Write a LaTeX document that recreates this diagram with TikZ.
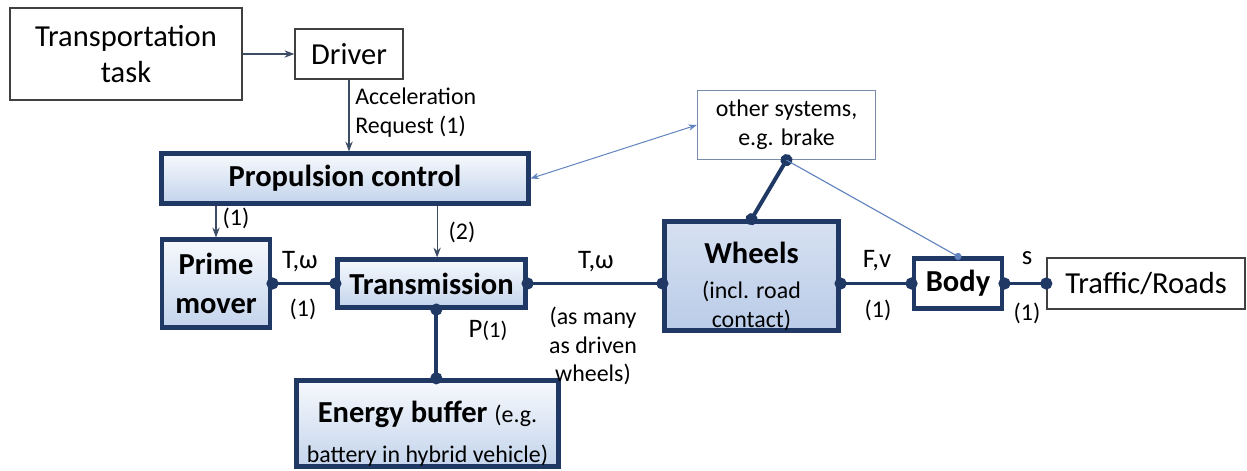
\documentclass[tikz,border=0pt]{standalone}
\usepackage{fontspec}
\setmainfont{Carlito}
\usetikzlibrary{arrows.meta, positioning}
\definecolor{linkblue}{RGB}{31,56,100}
\definecolor{fillhi}{RGB}{246,249,253}
\definecolor{filllo}{RGB}{196,212,236}
\definecolor{wheelhi}{RGB}{214,224,241}
\definecolor{wheello}{RGB}{186,204,232}
\definecolor{sigline}{RGB}{60,76,100}
\definecolor{lightlink}{RGB}{96,130,190}
\definecolor{otherframe}{RGB}{120,140,170}
\newcommand{\bigfont}{\fontsize{21.7pt}{26pt}\selectfont}
\newcommand{\smallfont}{\fontsize{17pt}{20.5pt}\selectfont}
\newcommand{\qtyfont}{\fontsize{19pt}{22pt}\selectfont}
\tikzstyle{plain} = [rectangle, draw=black!75, line width=1pt, inner sep=0pt, align=center, font=\bigfont]
\tikzstyle{block} = [rectangle, draw=linkblue, line width=3.5pt, top color=fillhi, bottom color=filllo, inner sep=0pt, align=center, font=\bigfont\bfseries]
\tikzstyle{annot} = [inner sep=0pt, align=center, font=\smallfont]
\tikzstyle{qty} = [inner sep=0pt, font=\qtyfont]
\tikzstyle{couple} = [draw=linkblue, line width=2.8pt, {Circle[length=8.5pt]}-{Circle[length=8.5pt]}, shorten <=-4.25pt, shorten >=-4.25pt]
\tikzstyle{ctl} = [draw=sigline, line width=0.8pt, -{Stealth[length=7pt]}]

\begin{document}
\begin{tikzpicture}[x=0.025cm, y=-0.025cm]
  \useasboundingbox (0,0) rectangle (1247,470);

  % Fahrer und Aufgabe
  \node[plain, minimum width=5.8cm, minimum height=2.3cm] (task) at (126,54) {Transportation\\task};
  \node[plain, minimum width=2.7cm, minimum height=1.25cm] (driver) at (349,54) {Driver};

  % Steuerung
  \node[block, minimum width=9.15cm, minimum height=1.23cm] (control) at (345,178.5) {Propulsion control};
  \node[plain, draw=otherframe, font=\smallfont, minimum width=4.45cm, minimum height=1.72cm] (other) at (786.5,125) {other systems,\\e.g. brake};

  % Antriebsstrang
  \node[block, minimum width=2.7cm, minimum height=2.18cm] (prime) at (216,283.5) {Prime\\[2pt]mover};
  \node[block, minimum width=4.68cm, minimum height=1.18cm] (trans) at (431.5,283.5) {Transmission};
  \node[block, top color=wheelhi, bottom color=wheello, minimum width=4.33cm, minimum height=2.45cm] (wheels) at (751.5,276)
    {\mbox{}\\[4pt]Wheels\\[-1pt]{\mdseries\smallfont (incl. road}\\[-6pt]{\mdseries\smallfont contact)}};
  \node[block, top color=white, bottom color=white, minimum width=2.2cm, minimum height=1.23cm] (body) at (958,283.5) {Body};
  \node[plain, minimum width=4.95cm, minimum height=1.275cm] (traffic) at (1146,283.5) {Traffic/Roads};
  \node[block, minimum width=6.53cm, minimum height=1.98cm] (buffer) at (427.5,423.5)
    {\mbox{}\\[4pt]Energy buffer {\mdseries\smallfont (e.g.}\\[2pt]{\mdseries\smallfont battery in hybrid vehicle)}};

  % Signale
  \draw[ctl] (task) -- (driver);
  \draw[ctl] (driver.south) -- (driver.south |- control.north);
  \draw[ctl] (prime.north |- control.south) -- (prime.north);
  \draw[ctl] ([xshift=0.14cm]trans.north |- control.south) -- ([xshift=0.14cm]trans.north);
  \draw[draw=lightlink, line width=0.7pt, {Stealth[length=6pt]}-{Stealth[length=6pt]}] (other.west) -- (control.east);

  % Kopplungen
  \draw[couple] (prime.east) -- (trans.west);
  \draw[couple] (trans.east) -- (trans.east -| wheels.west);
  \draw[couple] (trans.east -| wheels.east) -- (body.west);
  \draw[couple] (body.east) -- (traffic.west);
  \draw[couple] ([xshift=0.12cm]trans.south) -- ([xshift=0.12cm]trans.south |- buffer.north);
  \draw[couple] (other.south) -- (wheels.north);
  \draw[draw=lightlink, line width=0.8pt, -{Circle[length=5pt, fill=lightlink]}, shorten >=-2.5pt] (other.south) -- (body.north);

  % Beschriftungen
  \node[annot, anchor=west, align=left] (accreq) at (355,113) {Acceleration\\Request (1)};
  \node[annot] (pc1) at (236,218) {(1)};
  \node[annot] (pc2) at (462,232) {(2)};
  \node[qty] (tw1) at (300,262) {T,ω};
  \node[annot] (n1) at (303,309) {(1)};
  \node[qty] (tw2) at (596,262) {T,ω};
  \node[annot] (nw) at (593,346) {(as many\\as driven\\wheels)};
  \node[qty] (fv) at (877,261) {F,v};
  \node[annot] (n2) at (878,310) {(1)};
  \node[qty] (sp) at (1027,258) {s};
  \node[annot] (n3) at (1027,313) {(1)};
  \node[qty] (pw) at (488,330) {P{\fontsize{16pt}{18pt}\selectfont(1)}};
\end{tikzpicture}
\end{document}
